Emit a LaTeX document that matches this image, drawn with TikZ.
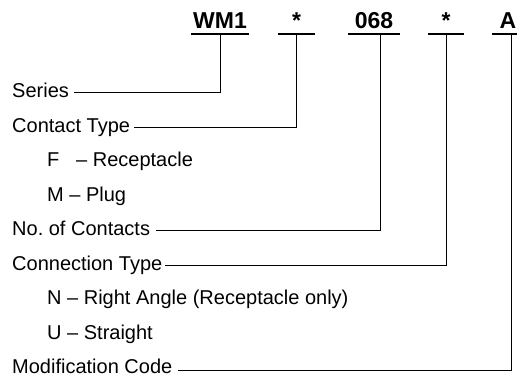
\documentclass[tikz,border=0pt]{standalone}
\usepackage{fontspec}
\setmainfont{Liberation Sans}
\usetikzlibrary{calc}
\begin{document}
\begin{tikzpicture}[x=1pt,y=-1pt,
  lbl/.style={anchor=base west,inner sep=0pt,font=\fontsize{20}{22}\selectfont},
  hdr/.style={anchor=base,inner xsep=0pt,inner ysep=6pt,text depth=0pt,font=\fontsize{23}{25}\selectfont\bfseries},
  uline/.style={line width=2pt},
  conn/.style={line width=1pt}]
\useasboundingbox (0,0) rectangle (517,378);
% header
\node[hdr,minimum width=57pt] (wm) at (220,28) {WM1};
\node[hdr,minimum width=37pt] (s1) at (296.5,28) {*};
\node[hdr,minimum width=52pt] (num) at (374,28) {068};
\node[hdr,minimum width=36pt] (s2) at (446,28) {*};
\node[hdr,minimum width=32pt] (mod) at (508,28) {A};
\foreach \n in {wm,s1,num,s2,mod} \draw[uline] (\n.south west) -- (\n.south east);
% labels
\node[lbl] (series) at (12,97.5) {Series};
\node[lbl] (ctype) at (12,132) {Contact Type};
\node[lbl] (f) at (47,166.5) {F};
\node[lbl] (fr) at (76,166.5) {– Receptacle};
\node[lbl] (m) at (47,201) {M – Plug};
\node[lbl] (noc) at (12,235.5) {No.\ of Contacts};
\node[lbl] (conn) at (12,270) {Connection Type};
\node[lbl] (n) at (47,304.5) {N – Right Angle (Receptacle only)};
\node[lbl] (u) at (47,339) {U – Straight};
\node[lbl] (modc) at (12,373.5) {Modification Code};
% connectors
\draw[conn] ([shift={(5,-5)}]series.base east) -| (wm.south);
\draw[conn] ([shift={(4,-5)}]ctype.base east) -| (s1.south);
\draw[conn] ([shift={(6,-5)}]noc.base east) -| ([xshift=6pt]num.south);
\draw[conn] ([shift={(3,-5)}]conn.base east) -| (s2.south);
\draw[conn] ([shift={(6,-3)}]modc.base east) -| ([xshift=3pt]mod.south);
\end{tikzpicture}
\end{document}
